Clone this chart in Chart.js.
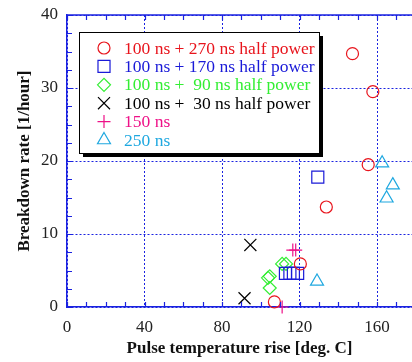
<!DOCTYPE html>
<html><head><meta charset="utf-8">
<script src="https://cdn.jsdelivr.net/npm/chart.js@4.4.1/dist/chart.umd.min.js"></script>
<style>html,body{margin:0;padding:0;background:#fff;overflow:hidden}#wrap{width:412px;height:362px;position:relative}</style>
</head><body><div id="wrap"><canvas id="c"></canvas></div>
<script>
// ---- data ----
const seriesLabels = [
  "100 ns + 270 ns half power",
  "100 ns + 170 ns half power",
  "100 ns +  90 ns half power",
  "100 ns +  30 ns half power",
  "150 ns",
  "250 ns"
];
const circleX  = [147.3, 157.8, 155.4, 133.8, 120.4, 107.0];
const circleY  = [34.7, 29.5, 19.5, 13.7, 5.9, 0.7];
const squareX  = [129.4, 112.7, 115.0, 116.8, 119.0];
const squareY  = [17.8, 4.6, 4.6, 4.6, 4.6];
const diamondX = [103.7, 104.6, 104.6, 111.0, 113.0];
const diamondY = [4.0, 4.2, 2.6, 5.9, 5.9];
const crossX   = [94.6, 91.6];
const crossY   = [8.5, 1.2];
const plusX    = [116.5, 118.0, 111.0];
const plusY    = [7.8, 7.8, 0.0];
const triX     = [162.6, 168.1, 164.9, 129.0];
const triY     = [19.7, 16.7, 14.9, 3.5];
const xTickLabels = [0, 40, 80, 120, 160];
const yTickLabels = [0, 10, 20, 30, 40];

// ---- styles ----
const colors = ['#e8141c', '#1a1ad8', '#33ee33', '#000000', '#ee1188', '#1fa8e0'];
const styles = ['circle', 'rect', 'rectRot', 'crossRot', 'cross', 'triangle'];
const radii  = [6, 8.5, 6.5, 8.5, 6.5, 7.5];
const xs = [circleX, squareX, diamondX, crossX, plusX, triX];
const ys = [circleY, squareY, diamondY, crossY, plusY, triY];
const FONT = "'Liberation Serif','Times New Roman',serif";
const AX = '#1a22e0';

const datasets = seriesLabels.map((lab, i) => ({
  label: lab,
  data: xs[i].map((x, k) => ({x: x, y: ys[i][k]})),
  pointStyle: styles[i],
  pointRadius: radii[i],
  pointHoverRadius: radii[i],
  borderColor: colors[i],
  backgroundColor: 'rgba(0,0,0,0)',
  pointBorderWidth: 1.2,
  showLine: false,
  clip: false
}));

const framePlugin = {
  id: 'frame',
  afterDraw(chart) {
    const ctx = chart.ctx, a = chart.chartArea;
    const sx = chart.scales.x, sy = chart.scales.y;
    ctx.save();
    ctx.strokeStyle = AX;
    ctx.lineWidth = 1.5;
    ctx.beginPath();
    ctx.moveTo(a.left, a.top); ctx.lineTo(a.right + 2, a.top);
    ctx.stroke();
    ctx.lineWidth = 1.2;
    ctx.beginPath();
    for (let v = 0; v <= 170; v += 10) {
      const p = Math.round(sx.getPixelForValue(v)) + 0.5;
      ctx.moveTo(p, a.bottom); ctx.lineTo(p, a.bottom - 5);
      ctx.moveTo(p, a.top); ctx.lineTo(p, a.top + 5);
    }
    for (let v = 0; v <= 40; v += 2.5) {
      const p = Math.round(sy.getPixelForValue(v)) + 0.5;
      ctx.moveTo(a.left, p); ctx.lineTo(a.left + 5, p);
    }
    ctx.stroke();

    // legend box
    const L = 79, T = 32, R = 319, B = 153;
    ctx.fillStyle = '#000';
    ctx.fillRect(L + 4, T + 4, R - L, B - T);
    ctx.fillStyle = '#fff';
    ctx.fillRect(L, T, R - L, B - T);
    ctx.strokeStyle = '#000';
    ctx.lineWidth = 1;
    ctx.strokeRect(L + 0.5, T + 0.5, R - L, B - T);
    ctx.font = "17.5px " + FONT;
    ctx.textBaseline = 'middle';
    ctx.textAlign = 'left';
    chart.data.datasets.forEach((ds, i) => {
      const y = 48 + i * 18.4;
      ctx.strokeStyle = colors[i];
      ctx.fillStyle = 'rgba(0,0,0,0)';
      ctx.lineWidth = 1.2;
      Chart.helpers.drawPoint(ctx, {pointStyle: styles[i], radius: radii[i], rotation: 0, borderWidth: 1.2}, 104, y);
      ctx.fillStyle = colors[i];
      ctx.fillText(ds.label, 124, y + 1);
    });
    ctx.restore();
  }
};

new Chart(document.getElementById('c'), {
  type: 'scatter',
  data: {datasets},
  plugins: [framePlugin],
  options: {
    responsive: true,
    maintainAspectRatio: false,
    animation: false,
    events: [],
    layout: {autoPadding: false, padding: {left: 0, top: 15, right: 0, bottom: 0}},
    plugins: {legend: {display: false}, tooltip: {enabled: false}},
    scales: {
      x: {
        type: 'linear', min: 0, max: 178,
        afterBuildTicks: s => { s.ticks = xTickLabels.map(v => ({value: v})); },
        afterFit: s => { s.height = 55; s.paddingLeft = 0; s.paddingRight = 0; },
        grid: {color: AX, lineWidth: 1, drawTicks: false},
        border: {display: true, color: AX, width: 1.5, dash: [2, 2]},
        ticks: {color: '#222', font: {family: FONT, size: 17}, padding: 10, maxRotation: 0},
        title: {display: true, text: 'Pulse temperature rise [deg. C]', color: '#111',
                font: {family: FONT, size: 17, weight: 'bold'}, padding: {top: 0, bottom: 3}}
      },
      y: {
        type: 'linear', min: 0, max: 40,
        afterBuildTicks: s => { s.ticks = yTickLabels.map(v => ({value: v})); },
        afterFit: s => { s.width = 67; s.paddingTop = 0; s.paddingBottom = 0; },
        grid: {color: AX, lineWidth: 1, drawTicks: false},
        border: {display: true, color: AX, width: 1.5, dash: [2, 2]},
        ticks: {color: '#222', font: {family: FONT, size: 17}, padding: 9},
        title: {display: true, text: 'Breakdown rate [1/hour]', color: '#111',
                font: {family: FONT, size: 17, weight: 'bold'}, padding: {top: 14, bottom: 0}}
      }
    }
  }
});
</script>
</body></html>
